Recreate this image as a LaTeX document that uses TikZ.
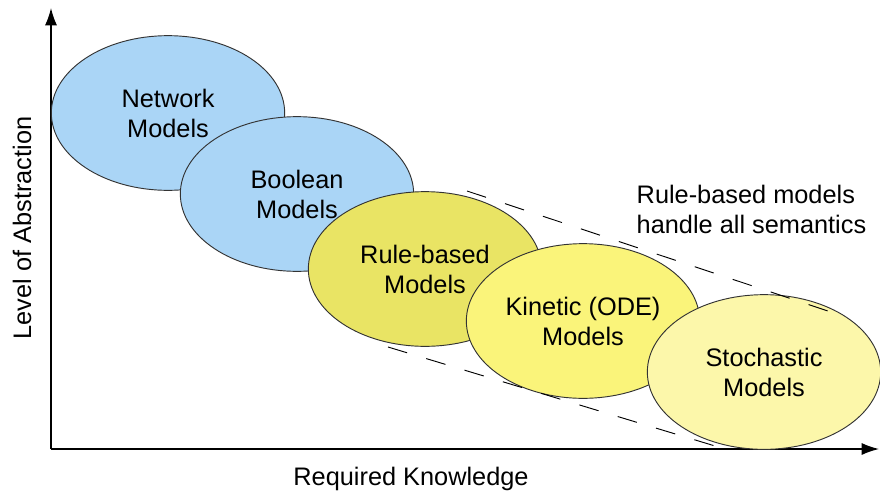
\documentclass[tikz,border=0pt]{standalone}
\usepackage{fontspec}
\setmainfont{Liberation Sans}
\usepackage{tikz}
\usetikzlibrary{shapes.geometric,arrows.meta}

\definecolor{netblue}{RGB}{170,213,246}
\definecolor{ruleyel}{RGB}{233,228,100}
\definecolor{kinyel}{RGB}{250,244,122}
\definecolor{stoyel}{RGB}{252,247,170}

\tikzset{
  model/.style={ellipse, draw=black!80, line width=0.7pt, minimum width=175pt,
    minimum height=116pt, inner sep=0pt, align=center,
    font=\fontsize{19}{22.5}\selectfont},
  axislabel/.style={font=\fontsize{19}{22.5}\selectfont},
  border/.style={dash pattern=on 15pt off 15pt, line width=0.7pt}
}

\begin{document}
\begin{tikzpicture}[x=0.75pt,y=-0.75pt,>={Latex[length=13pt,width=9pt]}]
\useasboundingbox (0,0) rectangle (880,496);

% axes
\coordinate (O) at (51,449);
\coordinate (Ytip) at (51,8);
\coordinate (Xtip) at (879,449);
\draw[->, line width=1pt] (O) -- (Ytip);
\draw[->, line width=1pt] (O) -- (Xtip);
\node[axislabel, rotate=90] (ylab) at (22,228) {Level of Abstraction};
\node[axislabel] (xlab) at (411,479) {Required Knowledge};

% models
\node[model, fill=netblue] (net) at (168,113) {Network\\Models};
\node[model, fill=netblue] (bool) at (297,194) {Boolean\\Models};
\node[model, fill=ruleyel] (rule) at (425,269) {Rule-based\\Models};
\node[model, fill=kinyel] (kin) at (583,321) {Kinetic (ODE)\\Models};
\node[model, fill=stoyel] (sto) at (764,372) {Stochastic\\Models};

% range of rule-based models
\coordinate (up1) at (467,191);
\coordinate (up2) at (840,315);
\coordinate (lo1) at (388,347);
\coordinate (lo2) at (725,449);
\draw[border] (up1) -- (up2);
\draw[border] (lo1) -- (lo2);
\node[axislabel, align=left, anchor=west] (note) at (632,209)
  {Rule-based models\\handle all semantics};
\end{tikzpicture}
\end{document}
